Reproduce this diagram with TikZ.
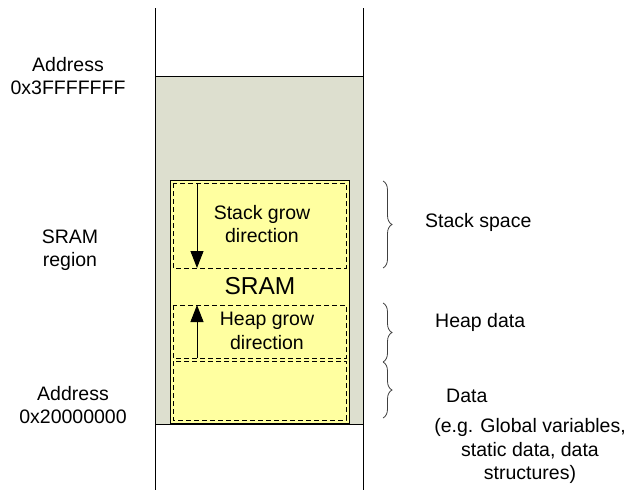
\documentclass[tikz,border=0pt]{standalone}
\usepackage{fontspec}
\setmainfont{Liberation Sans}
\usetikzlibrary{decorations.pathreplacing,arrows.meta}
\definecolor{regiongrey}{HTML}{DDDFCF}
\definecolor{sramyellow}{HTML}{FFFFA0}
\begin{document}
\begin{tikzpicture}[x=1pt,y=-1pt,
  lbl/.style={align=center,font=\fontsize{19.5}{23.5}\selectfont,inner sep=0pt},
  part/.style={draw=black,dash pattern=on 5pt off 3pt,line width=1pt},
  growarrow/.style={line width=1pt,-{Triangle[length=17pt,width=13pt]}},
  curly/.style={decorate,decoration={brace,amplitude=9pt},draw=black!75,line width=0.8pt}]
\useasboundingbox (0,0) rectangle (627,490);
% memory column
\fill[regiongrey] (155,76) rectangle (363,424);
\draw[line width=0.8pt] (155,8) -- (155,490) (363,8) -- (363,490);
\draw[line width=0.8pt] (155,76) -- (363,76) (155,424) -- (363,424);
% SRAM block
\draw[fill=sramyellow,line width=0.8pt] (170,180) rectangle (349,423);
\draw[part] (173,183) rectangle (346,268);
\draw[part] (173,305) rectangle (346,358);
\draw[part] (173,361) rectangle (346,420);
\coordinate (stTop) at (197,183);
\coordinate (stBot) at (197,268);
\coordinate (hpBot) at (197,358);
\coordinate (hpTop) at (197,305);
\draw[growarrow] (stTop) -- (stBot);
\draw[growarrow] (hpBot) -- (hpTop);
\node[lbl] (stack) at (262,224) {Stack grow\\direction};
\node[lbl,font=\fontsize{24.5}{28}\selectfont] (sram) at (260,286) {SRAM};
\node[lbl] (heap) at (267,331) {Heap grow\\direction};
% left address labels
\node[lbl] (top) at (68,76) {Address\\0x3FFFFFFF};
\node[lbl] (reg) at (70,250) {SRAM\\region};
\node[lbl] (bot) at (73,405) {Address\\0x20000000};
% braces and descriptions
\coordinate (b1a) at (383,181); \coordinate (b1b) at (383,268);
\coordinate (b2a) at (383,303); \coordinate (b2b) at (383,362);
\coordinate (b3a) at (383,362); \coordinate (b3b) at (383,418);
\draw[curly] (b1a) -- (b1b);
\draw[curly] (b2a) -- (b2b);
\draw[curly] (b3a) -- (b3b);
\node[lbl,anchor=west] (ss) at (425,222) {Stack space};
\node[lbl,anchor=west] (hd) at (435,322) {Heap data};
\node[lbl,anchor=west] (dt) at (446,396) {Data};
\node[lbl] (eg) at (530,451) {(e.g. Global variables,\\static data, data\\structures)};
\end{tikzpicture}
\end{document}
